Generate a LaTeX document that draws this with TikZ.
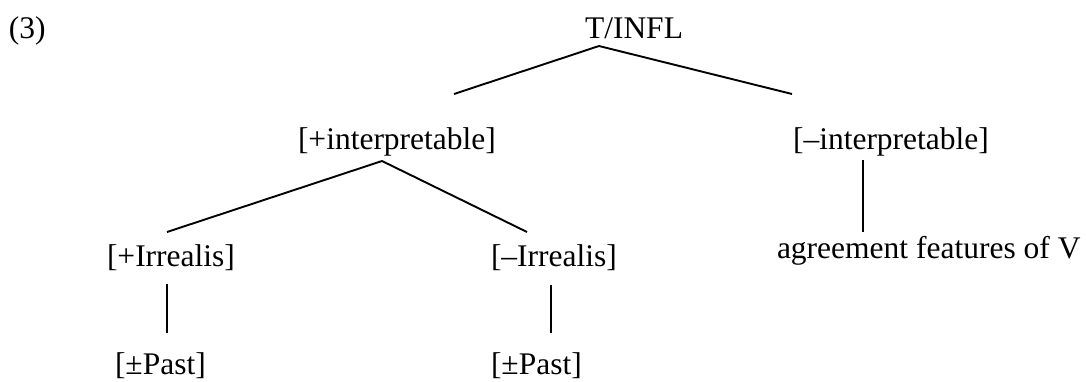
\documentclass[tikz,border=0pt]{standalone}
\usepackage{fontspec}
\setmainfont{Liberation Serif}
\begin{document}
\begin{tikzpicture}[x=1pt,y=-1pt,
  lbl/.style={anchor=base west,inner sep=0pt,outer sep=0pt,font=\fontsize{31.5}{36}\selectfont},
  edge/.style={line width=1.9pt,black}]
\useasboundingbox[fill=white] (0,0) rectangle (1086,381);
% labels
\node[lbl] (num) at (9,38) {(3)};
\node[lbl] (tinfl) at (585,38) {T/INFL};
\node[lbl] (pint) at (298,149) {[+interpretable]};
\node[lbl] (mint) at (793,149) {[\textendash interpretable]};
\node[lbl] (pirr) at (107,266) {[+Irrealis]};
\node[lbl] (mirr) at (491,266) {[\textendash Irrealis]};
\node[lbl] (agr) at (777,258) {agreement features of V};
\node[lbl] (past1) at (115,374) {[\textpm Past]};
\node[lbl] (past2) at (491,374) {[\textpm Past]};
% connector end points
\coordinate (tA) at (599,46);
\coordinate (tL) at (454,94);
\coordinate (tR) at (792,94);
\coordinate (pA) at (382,161);
\coordinate (pL) at (167,232);
\coordinate (pR) at (527,232);
\coordinate (v1a) at (167,284);
\coordinate (v1b) at (167,333);
\coordinate (v2a) at (551,285);
\coordinate (v2b) at (551,333);
\coordinate (v3a) at (863,160);
\coordinate (v3b) at (863,232);
% connectors
\draw[edge] (tL) -- (tA) -- (tR);
\draw[edge] (pL) -- (pA) -- (pR);
\draw[edge] (v1a) -- (v1b);
\draw[edge] (v2a) -- (v2b);
\draw[edge] (v3a) -- (v3b);
\end{tikzpicture}
\end{document}
